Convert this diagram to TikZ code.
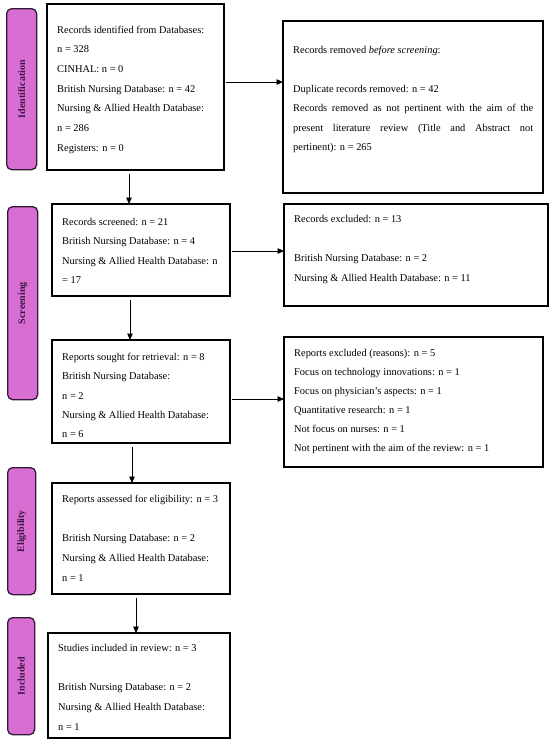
\documentclass[tikz,border=0pt]{standalone}
\usepackage{fontspec}
\setmainfont{Liberation Serif}
\usetikzlibrary{arrows.meta}
\definecolor{tabfill}{RGB}{216,110,210}
\definecolor{tabdraw}{RGB}{50,25,55}
\definecolor{tabtext}{RGB}{60,20,70}
\begin{document}
\begin{tikzpicture}[x=1pt,y=-1pt,
  box/.style={draw=black, line width=1.3pt, anchor=north west, inner sep=0pt, outer sep=0pt},
  tab/.style={draw=tabdraw, fill=tabfill, line width=1.3pt, rounded corners=5pt, anchor=north west, inner sep=0pt},
  tablabel/.style={rotate=90, font=\fontsize{10}{11}\selectfont\bfseries, text=tabtext},
  txt/.style={anchor=north west, inner sep=0pt, align=left, font=\fontsize{10.4}{#1}\selectfont},
  txt/.default=19.6,
  arr/.style={-{Triangle[length=6.5pt,width=5.5pt]}, line width=0.8pt, shorten <=2pt}]
\useasboundingbox (0,0) rectangle (550,745);

% phase tabs
\node[tab, minimum width=30pt, minimum height=161pt] (t1) at (6,8) {};
\node[tablabel] (l1) at (t1.center) {Identification};
\node[tab, minimum width=30pt, minimum height=193pt] (t2) at (7,206) {};
\node[tablabel] (l2) at (t2.center) {Screening};
\node[tab, minimum width=28pt, minimum height=127pt] (t3) at (7,467) {};
\node[tablabel] (l3) at (t3.center) {Eligibility};
\node[tab, minimum width=27pt, minimum height=117pt] (t4) at (7,617) {};
\node[tablabel] (l4) at (t4.center) {Included};

% boxes
\node[box, minimum width=177pt, minimum height=166pt] (b1) at (47,4) {};
\node[box, minimum width=260pt, minimum height=172pt] (b2) at (283,21) {};
\node[box, minimum width=178pt, minimum height=92pt] (b3) at (52,204) {};
\node[box, minimum width=264pt, minimum height=102pt] (b4) at (284,204) {};
\node[box, minimum width=178pt, minimum height=103pt] (b5) at (52,340) {};
\node[box, minimum width=259pt, minimum height=130pt] (b6) at (284,337) {};
\node[box, minimum width=178pt, minimum height=111pt] (b7) at (52,483) {};
\node[box, minimum width=182pt, minimum height=105pt] (b8) at (48,633) {};

% texts
\node[txt=19.7] (x1) at (57,25.5) {Records identified from Databases:\\ n = 328\\ CINHAL: n = 0\\ British Nursing Database: n = 42\\ Nursing \& Allied Health Database:\\ n = 286\\ Registers: n = 0};
\node[txt=19.4] (x2) at (293,46) {Records removed \textit{before screening}:\\[19.6pt]
Duplicate records removed: n = 42\\
\makebox[240pt][s]{Records removed as not pertinent with the aim of the}\\
\makebox[240pt][s]{present literature review (Title and Abstract not}\\
pertinent): n = 265};
\node[txt=19.3] (x3) at (62,218) {Records screened: n = 21\\ British Nursing Database: n = 4\\ Nursing \& Allied Health Database: n\\ = 17};
\node[txt=19.6] (x4) at (294,215) {Records excluded: n = 13\\[19.5pt] British Nursing Database: n = 2\\ Nursing \& Allied Health Database: n = 11};
\node[txt=19.3] (x5) at (62,353) {Reports sought for retrieval: n = 8\\ British Nursing Database:\\ n = 2\\ Nursing \& Allied Health Database:\\ n = 6};
\node[txt=19.0] (x6) at (294,349) {Reports excluded (reasons): n = 5\\ Focus on technology innovations: n = 1\\ Focus on physician’s aspects: n = 1\\ Quantitative research: n = 1\\ Not focus on nurses: n = 1\\ Not pertinent with the aim of the review: n = 1};
\node[txt=19.7] (x7) at (62,495) {Reports assessed for eligibility: n = 3\\[19.5pt] British Nursing Database: n = 2\\ Nursing \& Allied Health Database:\\ n = 1};
\node[txt=19.7] (x8) at (58,644) {Studies included in review: n = 3\\[19.5pt] British Nursing Database: n = 2\\ Nursing \& Allied Health Database:\\ n = 1};

% connector levels
\coordinate (ya) at (0,82);
\coordinate (yb) at (0,251);
\coordinate (yc) at (0,399);
\coordinate (xa) at (129,0);
\coordinate (xb) at (130,0);
\coordinate (xc) at (132,0);
\coordinate (xd) at (136,0);

\draw[arr] (b1.east |- ya) -- (b2.west |- ya);
\draw[arr] (b3.east |- yb) -- (b4.west |- yb);
\draw[arr] (b5.east |- yc) -- (b6.west |- yc);
\draw[arr, shorten <=4pt] (b1.south -| xa) -- (b3.north -| xa);
\draw[arr, shorten <=4pt] (b3.south -| xb) -- (b5.north -| xb);
\draw[arr, shorten <=4pt] (b5.south -| xc) -- (b7.north -| xc);
\draw[arr, shorten <=4pt] (b7.south -| xd) -- (b8.north -| xd);
\end{tikzpicture}
\end{document}
